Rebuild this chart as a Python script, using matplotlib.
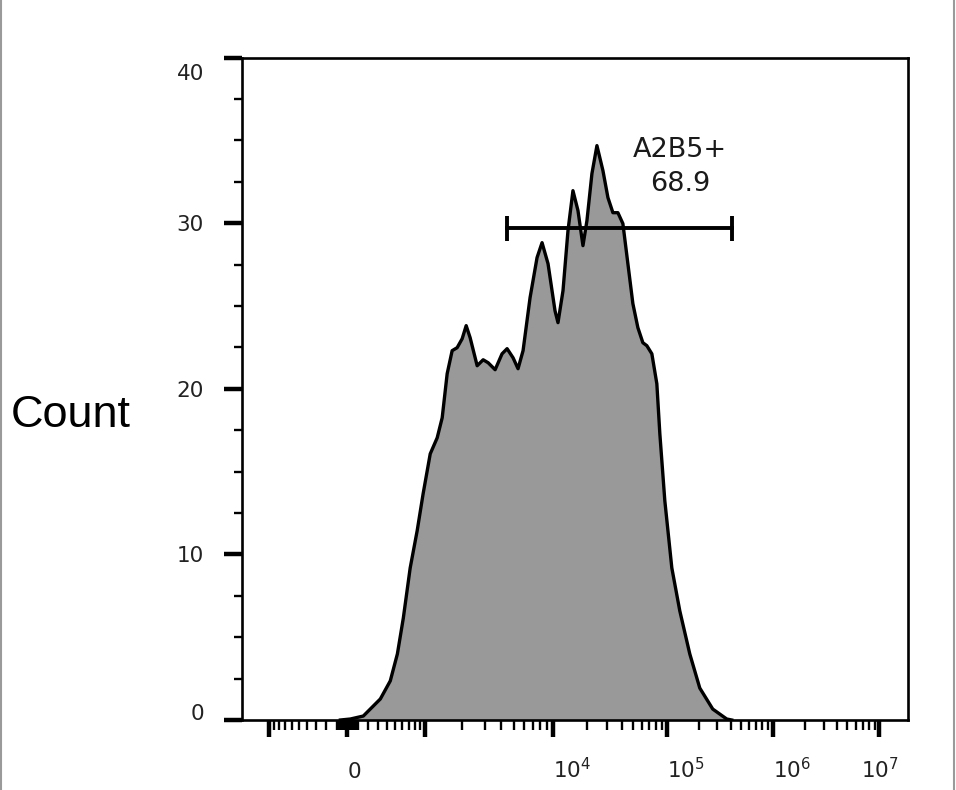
import numpy as np
import matplotlib
matplotlib.use('Agg')
import matplotlib.pyplot as plt
from matplotlib.lines import Line2D
from matplotlib.transforms import ScaledTranslation

# histogram outline: fluorescence value and events per bin
intensity = [-64, 28, 150, 325, 441, 533, 617, 723, 843, 957,
             1102, 1259, 1383, 1517, 1663, 1822, 1996, 2146, 2305, 2614,
             2910, 3180, 3600, 4070, 4450, 4945, 5400, 5900, 6675, 7550,
             8245, 9160, 10410, 11060, 12240, 13540, 14970, 16570, 18330, 19870,
             21980, 24320, 27460, 30380, 33600, 37170, 41120, 45490, 50320, 55670,
             61590, 66750, 73870, 81720, 86830, 96050, 111500, 132600, 164800, 204800,
             271600, 368100, 410500]
count = [0.0, 0.06, 0.24, 1.27, 2.36, 3.99, 6.16, 9.18, 11.42, 13.66,
         16.07, 17.04, 18.25, 20.91, 22.30, 22.48, 23.02, 23.81, 23.08, 21.39,
         21.75, 21.57, 21.15, 22.11, 22.42, 21.87, 21.21, 22.30, 25.50, 27.92,
         28.82, 27.55, 24.71, 23.99, 25.92, 29.55, 31.96, 30.76, 28.64, 30.15,
         32.99, 34.68, 33.17, 31.54, 30.63, 30.63, 29.97, 27.55, 25.14, 23.69,
         22.78, 22.60, 22.11, 20.30, 17.28, 13.23, 9.18, 6.59, 3.99, 1.93,
         0.66, 0.06, 0.0]

# gate
gate_name = 'A2B5+'
gate_percent = 68.9
gate_range = [4450, 410500]
gate_level = 29.7
gate_label_at = (132600, 33.4)

# axis ticks
x_major = [-1e3, 0, 1e3, 1e4, 1e5, 1e6, 1e7]
x_major_labels = ['', '0', '', r'$\mathregular{10^{4}}$', r'$\mathregular{10^{5}}$',
                  r'$\mathregular{10^{6}}$', r'$\mathregular{10^{7}}$']
y_major = [0, 10, 20, 30, 40]
y_major_labels = ['0', '10', '20', '30', '40']

# biexponential display: arcsinh width and calibration of the major decades
BIEX_W = 500.0
BIEX_VALUES = np.array(x_major)
BIEX_UNITS = np.array([-79, 0, 78, 206, 320, 426, 533], dtype=float)
BIEX_U = np.arcsinh(BIEX_VALUES / BIEX_W)


def _lin(q, xp, fp):
    q = np.asarray(q, dtype=float)
    out = np.interp(q, xp, fp)
    out = np.where(q < xp[0], fp[0] + (q - xp[0]) * (fp[1] - fp[0]) / (xp[1] - xp[0]), out)
    out = np.where(q > xp[-1], fp[-1] + (q - xp[-1]) * (fp[-1] - fp[-2]) / (xp[-1] - xp[-2]), out)
    return out


def biex_forward(x):
    return _lin(np.arcsinh(np.asarray(x, dtype=float) / BIEX_W), BIEX_U, BIEX_UNITS)


def biex_inverse(p):
    return BIEX_W * np.sinh(_lin(p, BIEX_UNITS, BIEX_U))


x_minor = [-v for v in range(100, 1000, 100)] + [-v for v in range(10, 100, 10)]
x_minor += list(range(10, 100, 10)) + list(range(100, 1000, 100))
for d in range(3, 7):
    x_minor += [k * 10 ** d for k in range(2, 10)]

fig = plt.figure(figsize=(9.56, 7.90), dpi=100)
ax = fig.add_axes([241.5 / 956, 70 / 790, 666 / 956, 662.5 / 790])

ax.set_xscale('function', functions=(biex_forward, biex_inverse))
ax.set_xlim(-1700, 1.83e7)
ax.set_ylim(0, 40)

ax.fill_between(intensity, count, 0, color='#999999', lw=0, zorder=1)
ax.plot(intensity, count, color='black', lw=2.4, solid_joinstyle='round', zorder=2)

ax.plot(gate_range, [gate_level, gate_level], color='black', lw=2.8,
        marker='|', markersize=18, markeredgewidth=2.8, zorder=3)
ax.text(gate_label_at[0], gate_label_at[1], f'{gate_name}\n{gate_percent}',
        ha='center', va='center', fontsize=19.5, linespacing=1.4, color='#1a1a1a')

ax.set_xticks(x_major, x_major_labels)
ax.set_xticks(x_minor, minor=True)
ax.set_yticks(y_major, y_major_labels)
ax.set_yticks(np.arange(0, 40, 2.5), minor=True)

ax.tick_params(axis='x', which='major', direction='out', length=12.5, width=3.2,
               pad=29.3, labelsize=15.5, labelcolor='#222222')
ax.tick_params(axis='x', which='minor', direction='out', length=7.5, width=1.7)
ax.tick_params(axis='y', which='major', direction='out', length=13, width=3.2,
               pad=14, labelsize=15.5, labelcolor='#222222')
ax.tick_params(axis='y', which='minor', direction='out', length=6, width=1.7)

for lbl in ax.get_xticklabels():
    lbl.set_va('baseline')
    lbl.set_ha('left')
ax.get_xticklabels()[-1].set_ha('center')
ylbls = ax.get_yticklabels()
ylbls[0].set_va('baseline')
ylbls[-1].set_va('top')
ylbls[-1].set_transform(ylbls[-1].get_transform()
                        + ScaledTranslation(0, -5 / 72, fig.dpi_scale_trans))

for s in ax.spines.values():
    s.set_linewidth(1.9)
    s.set_color('black')

ax.set_ylabel('Count', rotation=0, ha='left', va='baseline', fontsize=32.5,
              family='Liberation Sans')
ax.yaxis.set_label_coords(-0.3463, 0.442)

# screenshot frame
fig.add_artist(Line2D([0.0008, 0.0008], [0, 1], transform=fig.transFigure, color='#9a9a9a', lw=1.5))
fig.add_artist(Line2D([0.9975, 0.9975], [0, 1], transform=fig.transFigure, color='#9a9a9a', lw=1.5))

fig.savefig('out.png', dpi=100)
